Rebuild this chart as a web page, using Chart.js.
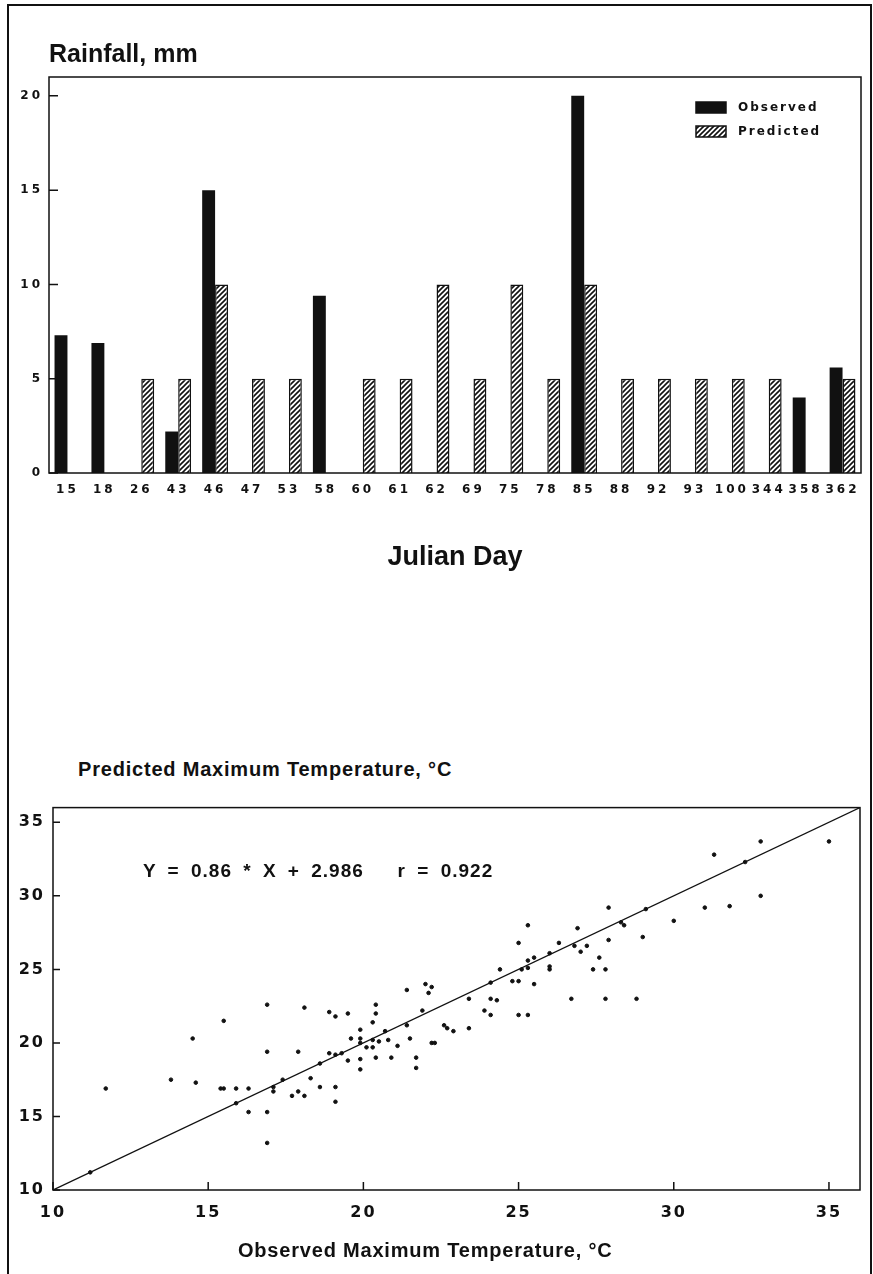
<!DOCTYPE html>
<html>
<head>
<meta charset="utf-8">
<script src="https://cdn.jsdelivr.net/npm/chart.js@4.4.0/dist/chart.umd.min.js"></script>
<style>
  body { margin: 0; background: #fff; width: 873px; height: 1274px; overflow: hidden; position: relative;
         font-family: "Liberation Sans", Arial, sans-serif; color: #111; }
  #frame { position: absolute; left: 7px; top: 4px; width: 865px; height: 1300px; border: 2px solid #111; box-sizing: border-box; }
  #rainBox { position: absolute; left: 0; top: 0; width: 873px; height: 600px; }
  #tempBox { position: absolute; left: 0; top: 790px; width: 873px; height: 484px; }
  .txt { position: absolute; font-weight: bold; white-space: nowrap; line-height: 1; }
  #yTitle { left: 78px; top: 759px; font-size: 20px; letter-spacing: 0.8px; }
  #xTitle { left: 238px; top: 1240px; font-size: 20px; letter-spacing: 0.8px; }
  #equation { left: 143px; top: 861px; font-size: 19px; letter-spacing: 1px; word-spacing: 5px; }
</style>
</head>
<body>
<div id="frame"></div>
<div id="rainBox"><canvas id="rainChart"></canvas></div>
<div id="tempBox"><canvas id="tempChart"></canvas></div>
<div class="txt" id="yTitle">Predicted Maximum Temperature, °C</div>
<div class="txt" id="equation">Y = 0.86 * X + 2.986&nbsp;&nbsp; r = 0.922</div>
<div class="txt" id="xTitle">Observed Maximum Temperature, °C</div>

<script>
// rainfall by julian day
var julianDays = ["15", "18", "26", "43", "46", "47", "53", "58", "60", "61", "62",
                  "69", "75", "78", "85", "88", "92", "93", "100", "344", "358", "362"];
var observedRain = [7.3, 6.9, null, 2.2, 15, null, null, 9.4, null, null, null,
                    null, null, null, 20, null, null, null, null, null, 4.0, 5.6];
var predictedRain = [null, null, 5, 5, 10, 5, 5, null, 5, 5, 10,
                     5, 10, 5, 10, 5, 5, 5, 5, 5, null, 5];
var rainTicks = [0, 5, 10, 15, 20];

// max temperature, observed (x) vs predicted (y)
var observedTemp = [32.8, 35.0, 31.3, 32.3, 32.8, 31.0, 31.8, 30.0, 29.1, 29.0,
                    27.9, 28.3, 28.4, 27.9, 27.6, 27.8, 27.4, 27.8, 28.8, 26.7,
                    26.9, 26.3, 26.8, 27.2, 27.0, 26.0, 26.0, 26.0, 25.3, 25.0,
                    25.3, 25.5, 25.3, 25.1, 24.4, 24.8, 25.0, 25.5, 24.1, 23.4,
                    24.1, 24.3, 23.9, 24.1, 25.0, 25.3, 22.2, 22.6, 22.7, 22.9,
                    23.4, 22.3, 16.9, 18.1, 18.9, 19.1, 19.5, 20.4, 20.4, 21.4,
                    22.0, 22.1, 21.9, 15.5, 14.5, 16.9, 17.9, 19.6, 19.9, 19.9,
                    20.3, 20.3, 20.5, 20.1, 20.3, 19.9, 20.7, 20.8, 21.1, 21.5,
                    21.4, 22.2, 21.7, 21.7, 20.9, 20.4, 19.9, 19.9, 18.9, 19.1,
                    19.3, 19.5, 18.6, 18.3, 18.6, 19.1, 19.1, 17.7, 17.9, 18.1,
                    17.4, 17.1, 17.1, 16.3, 15.9, 15.5, 15.4, 15.9, 16.3, 16.9,
                    16.9, 14.6, 13.8, 11.7, 11.2];
var predictedTemp = [33.7, 33.7, 32.8, 32.3, 30.0, 29.2, 29.3, 28.3, 29.1, 27.2,
                     29.2, 28.2, 28.0, 27.0, 25.8, 25.0, 25.0, 23.0, 23.0, 23.0,
                     27.8, 26.8, 26.6, 26.6, 26.2, 26.1, 25.2, 25.0, 28.0, 26.8,
                     25.6, 25.8, 25.1, 25.0, 25.0, 24.2, 24.2, 24.0, 24.1, 23.0,
                     23.0, 22.9, 22.2, 21.9, 21.9, 21.9, 23.8, 21.2, 21.0, 20.8,
                     21.0, 20.0, 22.6, 22.4, 22.1, 21.8, 22.0, 22.6, 22.0, 23.6,
                     24.0, 23.4, 22.2, 21.5, 20.3, 19.4, 19.4, 20.3, 20.9, 20.3,
                     21.4, 20.2, 20.1, 19.7, 19.7, 20.0, 20.8, 20.2, 19.8, 20.3,
                     21.2, 20.0, 19.0, 18.3, 19.0, 19.0, 18.9, 18.2, 19.3, 19.2,
                     19.3, 18.8, 18.6, 17.6, 17.0, 17.0, 16.0, 16.4, 16.7, 16.4,
                     17.5, 17.0, 16.7, 16.9, 16.9, 16.9, 16.9, 15.9, 15.3, 15.3,
                     13.2, 17.3, 17.5, 16.9, 11.2];
var lineX = [10, 36];
var lineY = [10, 36];
var tempTicks = [10, 15, 20, 25, 30, 35];

Chart.defaults.font.family = "'Liberation Sans', Arial, sans-serif";
Chart.defaults.color = "#111";

function makeHatch() {
  var c = document.createElement("canvas");
  c.width = 5;
  c.height = 5;
  var g = c.getContext("2d");
  g.fillStyle = "#fff";
  g.fillRect(0, 0, 5, 5);
  g.strokeStyle = "#111";
  g.lineWidth = 1.6;
  g.beginPath();
  g.moveTo(-1, 6); g.lineTo(6, -1);
  g.moveTo(-1, 1); g.lineTo(1, -1);
  g.moveTo(4, 6); g.lineTo(6, 4);
  g.stroke();
  return g.createPattern(c, "repeat");
}

// box around the plot and short ticks pointing inwards
var frameTicks = {
  id: "frameTicks",
  afterDatasetsDraw: function (chart, args, opts) {
    var a = chart.chartArea, ctx = chart.ctx;
    ctx.save();
    ctx.strokeStyle = "#111";
    ctx.lineWidth = 1.5;
    ctx.strokeRect(a.left, a.top, a.right - a.left, a.bottom - a.top);
    ctx.beginPath();
    if (opts.y) {
      chart.scales.y.ticks.forEach(function (t) {
        var p = chart.scales.y.getPixelForValue(t.value);
        ctx.moveTo(a.left, p);
        ctx.lineTo(a.left + opts.y, p);
      });
    }
    if (opts.x) {
      chart.scales.x.ticks.forEach(function (t) {
        var p = chart.scales.x.getPixelForValue(t.value);
        ctx.moveTo(p, a.bottom);
        ctx.lineTo(p, a.bottom - opts.x);
      });
    }
    ctx.stroke();
    ctx.restore();
  }
};

// wide spaced tick labels like the typewriter style of the original
var spacedTicks = {
  id: "spacedTicks",
  beforeDraw: function (chart, args, opts) {
    Object.keys(chart.scales).forEach(function (k) {
      var s = chart.scales[k];
      if (s._spaced) return;
      var orig = s.drawLabels;
      s.drawLabels = function (area) {
        this.ctx.save();
        this.ctx.letterSpacing = opts.spacing;
        orig.call(this, area);
        this.ctx.restore();
      };
      s._spaced = true;
    });
  }
};

var insideLegend = {
  id: "insideLegend",
  afterDraw: function (chart, args, opts) {
    if (!opts.show) return;
    var ctx = chart.ctx, a = chart.chartArea;
    ctx.save();
    ctx.font = "bold 12px 'DejaVu Sans'";
    ctx.letterSpacing = "2px";
    ctx.textBaseline = "middle";
    chart.data.datasets.forEach(function (ds, i) {
      var x = a.right - 165;
      var y = a.top + 25 + i * 24;
      ctx.fillStyle = ds.backgroundColor;
      ctx.fillRect(x, y, 30, 11);
      ctx.lineWidth = 1.5;
      ctx.strokeStyle = "#111";
      ctx.strokeRect(x, y, 30, 11);
      ctx.fillStyle = "#111";
      ctx.fillText(ds.label, x + 42, y + 6);
    });
    ctx.restore();
  }
};

var tickFont = { family: "'DejaVu Sans'", weight: "bold", size: 12 };

new Chart(document.getElementById("rainChart").getContext("2d"), {
  type: "bar",
  data: {
    labels: julianDays,
    datasets: [
      {
        label: "Observed",
        data: observedRain,
        backgroundColor: "#111",
        borderWidth: 0,
        categoryPercentage: 0.7,
        barPercentage: 1.0
      },
      {
        label: "Predicted",
        data: predictedRain,
        backgroundColor: makeHatch(),
        borderColor: "#111",
        borderWidth: 1.5,
        categoryPercentage: 0.7,
        barPercentage: 1.0
      }
    ]
  },
  options: {
    responsive: true,
    maintainAspectRatio: false,
    animation: false,
    layout: { padding: { left: 0, right: 12, top: 0, bottom: 17 } },
    plugins: {
      legend: { display: false },
      tooltip: { enabled: false },
      title: {
        display: true,
        text: "Rainfall, mm",
        align: "start",
        fullSize: false,
        color: "#111",
        font: { size: 25, weight: "bold" },
        padding: { top: 40, bottom: 7 }
      },
      frameTicks: { y: 9 },
      spacedTicks: { spacing: "3px" },
      insideLegend: { show: true }
    },
    scales: {
      x: {
        grid: { display: false, drawTicks: false },
        border: { display: false },
        ticks: { font: tickFont, color: "#111", padding: 10, maxRotation: 0, autoSkip: false },
        title: {
          display: true,
          text: "Julian Day",
          color: "#111",
          font: { size: 27, weight: "bold" },
          padding: { top: 0, bottom: 9 }
        },
        afterFit: function (s) { s.height = 110; }
      },
      y: {
        min: 0,
        max: 21,
        grid: { display: false, drawTicks: false },
        border: { display: false },
        ticks: { font: tickFont, color: "#111", padding: 6 },
        afterBuildTicks: function (s) { s.ticks = rainTicks.map(function (v) { return { value: v }; }); },
        afterFit: function (s) { s.width = 49; }
      }
    }
  },
  plugins: [frameTicks, spacedTicks, insideLegend]
});

var tempPoints = observedTemp.map(function (x, i) { return { x: x, y: predictedTemp[i] }; });
var linePoints = lineX.map(function (x, i) { return { x: x, y: lineY[i] }; });
var bigTickFont = { family: "'DejaVu Sans'", weight: "bold", size: 16 };

new Chart(document.getElementById("tempChart").getContext("2d"), {
  type: "scatter",
  data: {
    datasets: [
      {
        label: "1:1",
        data: linePoints,
        showLine: true,
        borderColor: "#111",
        borderWidth: 1.3,
        pointRadius: 0
      },
      {
        label: "Temperature",
        data: tempPoints,
        backgroundColor: "#111",
        borderColor: "#111",
        pointRadius: 1.8
      }
    ]
  },
  options: {
    responsive: true,
    maintainAspectRatio: false,
    animation: false,
    layout: { padding: { left: 0, right: 13, top: 14, bottom: 0 } },
    plugins: {
      legend: { display: false },
      tooltip: { enabled: false },
      frameTicks: { x: 8, y: 7 },
      spacedTicks: { spacing: "2px" },
      insideLegend: { show: false }
    },
    scales: {
      x: {
        type: "linear",
        min: 10,
        max: 36,
        grid: { display: false, drawTicks: false },
        border: { display: false },
        ticks: { font: bigTickFont, color: "#111", padding: 13, maxRotation: 0, autoSkip: false },
        afterBuildTicks: function (s) { s.ticks = tempTicks.map(function (v) { return { value: v }; }); },
        afterFit: function (s) { s.height = 84; }
      },
      y: {
        type: "linear",
        min: 10,
        max: 36,
        grid: { display: false, drawTicks: false },
        border: { display: false },
        ticks: { font: bigTickFont, color: "#111", padding: 8 },
        afterBuildTicks: function (s) { s.ticks = tempTicks.map(function (v) { return { value: v }; }); },
        afterFit: function (s) { s.width = 53; }
      }
    }
  },
  plugins: [frameTicks, spacedTicks, insideLegend]
});
</script>
</body>
</html>
